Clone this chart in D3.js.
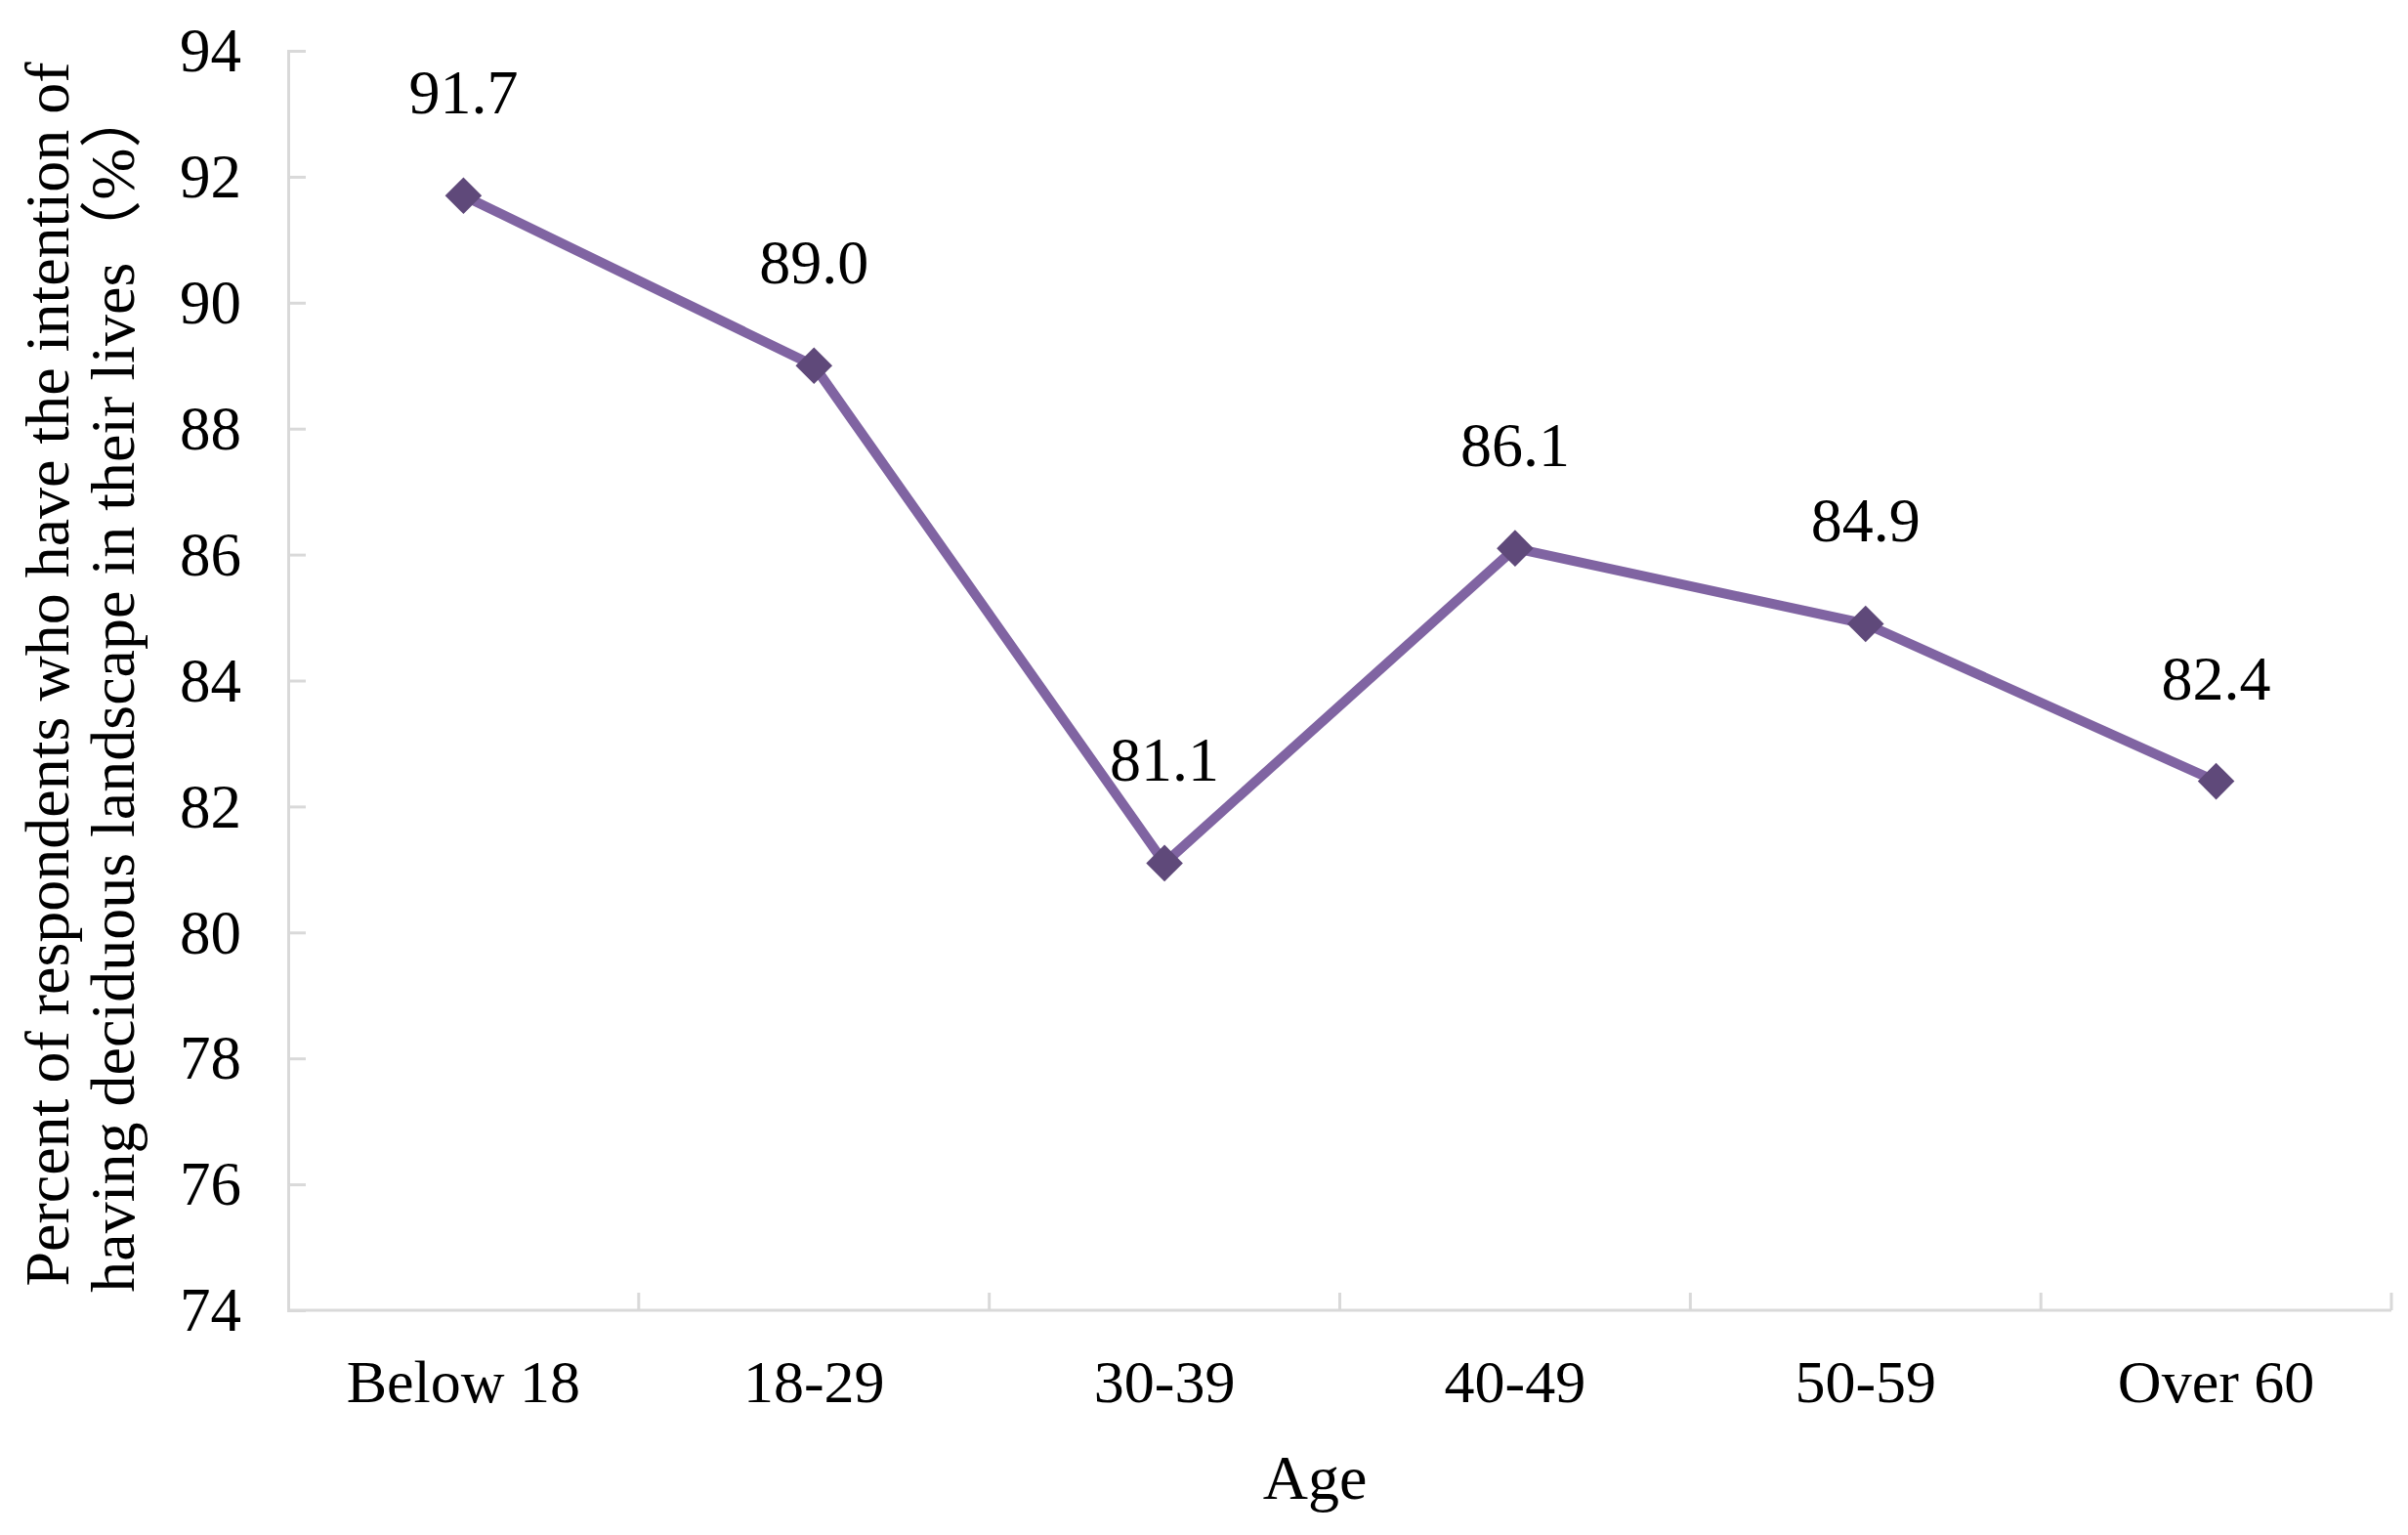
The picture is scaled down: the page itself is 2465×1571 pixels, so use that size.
<!DOCTYPE html>
<html><head><meta charset="utf-8">
<script src="https://cdn.jsdelivr.net/npm/d3@7"></script>
<style>body{margin:0;background:#fff}svg text{font-family:"Liberation Serif","Noto Sans CJK SC",serif;fill:#000}</style>
</head><body><svg id="c" width="2465" height="1571"></svg>
<script>
const categories = ["Below 18","18-29","30-39","40-49","50-59","Over 60"];
const values = [91.7, 89.0, 81.1, 86.1, 84.9, 82.4];
const valueLabels = ["91.7","89.0","81.1","86.1","84.9","82.4"];
const yTicks = [74,76,78,80,82,84,86,88,90,92,94];
const xTitle = "Age";
const yTitle = ["Percent of respondents who have the intention of","having deciduous landscape in their lives\uFF08%\uFF09"];

const svg = d3.select("#c");
const L = 295, R = 2448, T = 52, B = 1341;
const x = d3.scaleBand().domain(categories).range([L, R]).padding(0);
const y = d3.scaleLinear().domain([74, 94]).range([B, T]);
const axisColor = "#d9d9d9";
const fs = 62;

// Y axis
const ya = svg.append("g").attr("transform", `translate(${L},0)`)
  .call(d3.axisLeft(y).tickValues(yTicks).tickSize(-18).tickPadding(48).tickFormat(d3.format("d")));
ya.select(".domain").attr("stroke", axisColor).attr("stroke-width", 3);
ya.selectAll(".tick line").attr("stroke", axisColor).attr("stroke-width", 3);
ya.selectAll(".tick text").attr("font-size", 63).attr("dy", "0.33em");

// X axis
const xa = svg.append("g").attr("transform", `translate(0,${B})`)
  .call(d3.axisBottom(x).tickSize(0).tickPadding(0));
xa.select(".domain").attr("stroke", axisColor).attr("stroke-width", 3).attr("d", `M${L},0H${R}`);
xa.selectAll(".tick text").attr("font-size", fs).attr("dy", null).attr("y", 94);
const bounds = categories.slice(1).map(c => x(c)).concat([R]);
xa.selectAll(".bt").data(bounds).join("line").attr("class","bt")
  .attr("x1", d => d).attr("x2", d => d).attr("y1", 0).attr("y2", -18)
  .attr("stroke", axisColor).attr("stroke-width", 3);

// Line
const cx = d => x(d.c) + x.bandwidth()/2;
const data = categories.map((c,i) => ({c, v: values[i], l: valueLabels[i]}));
svg.append("path").datum(data)
  .attr("d", d3.line().x(cx).y(d => y(d.v)))
  .attr("fill","none").attr("stroke","#8064a2").attr("stroke-width",10).attr("stroke-linejoin","round");
svg.selectAll(".mk").data(data).join("path").attr("class","mk")
  .attr("transform", d => `translate(${cx(d)},${y(d.v)})`)
  .attr("d", d3.symbol(d3.symbolDiamond2, 900)())
  .attr("fill", "#5f497a");
svg.selectAll(".vl").data(data).join("text").attr("class","vl")
  .attr("x", cx).attr("y", d => y(d.v) - 84)
  .attr("text-anchor","middle").attr("font-size", 64).text(d => d.l);

// Titles
svg.append("text").attr("x", 1346).attr("y", 1534).attr("text-anchor","middle").attr("font-size", 64).text(xTitle);
svg.append("text").attr("transform","translate(70,690) rotate(-90)").attr("text-anchor","middle").attr("font-size", 64).text(yTitle[0]);
svg.append("text").attr("transform","translate(137,705) rotate(-90)").attr("text-anchor","middle").attr("font-size", 64).text(yTitle[1]);
</script></body></html>
